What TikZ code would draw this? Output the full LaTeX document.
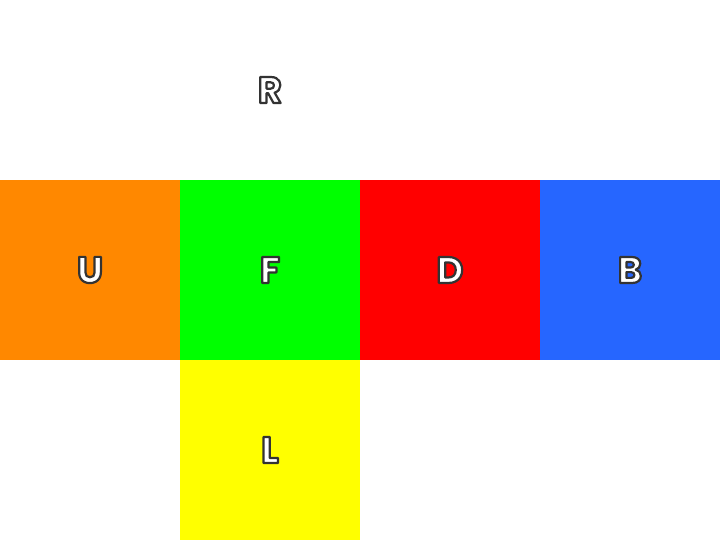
\documentclass[tikz,border=0pt]{standalone}
\usepackage{fontspec}
\newfontfamily\facefont{Poppins}
\usetikzlibrary{positioning}
\definecolor{faceU}{HTML}{FF8800}
\definecolor{faceF}{HTML}{00FF00}
\definecolor{faceD}{HTML}{FF0000}
\definecolor{faceB}{HTML}{2666FF}
\definecolor{faceL}{HTML}{FFFF00}
% white letters with a dark rim (fill and stroke text mode)
\newcommand{\facelbl}[1]{%
  \special{pdf:code 2 Tr 2.2 w 1 j 0.2 0.2 0.2 RG 1 1 1 rg}#1\special{pdf:code 0 Tr}}
\tikzset{
  face/.style={minimum size=180pt, inner sep=0pt, outer sep=0pt,
    font=\facefont\bfseries\fontsize{37}{37}\selectfont},
}

\begin{document}
\begin{tikzpicture}[x=1pt, y=1pt, node distance=0pt]
  \useasboundingbox (0,0) rectangle (720,540);
  \node[face, fill=faceU] (U) at (90,270) {\facelbl{U}};
  \node[face, fill=faceF, right=of U] (F) {\facelbl{F}};
  \node[face, fill=faceD, right=of F] (D) {\facelbl{D}};
  \node[face, fill=faceB, right=of D] (B) {\facelbl{B}};
  \node[face, fill=white, above=of F] (R) {\facelbl{R}};
  \node[face, fill=faceL, below=of F] (L) {\facelbl{L}};
\end{tikzpicture}
\end{document}
